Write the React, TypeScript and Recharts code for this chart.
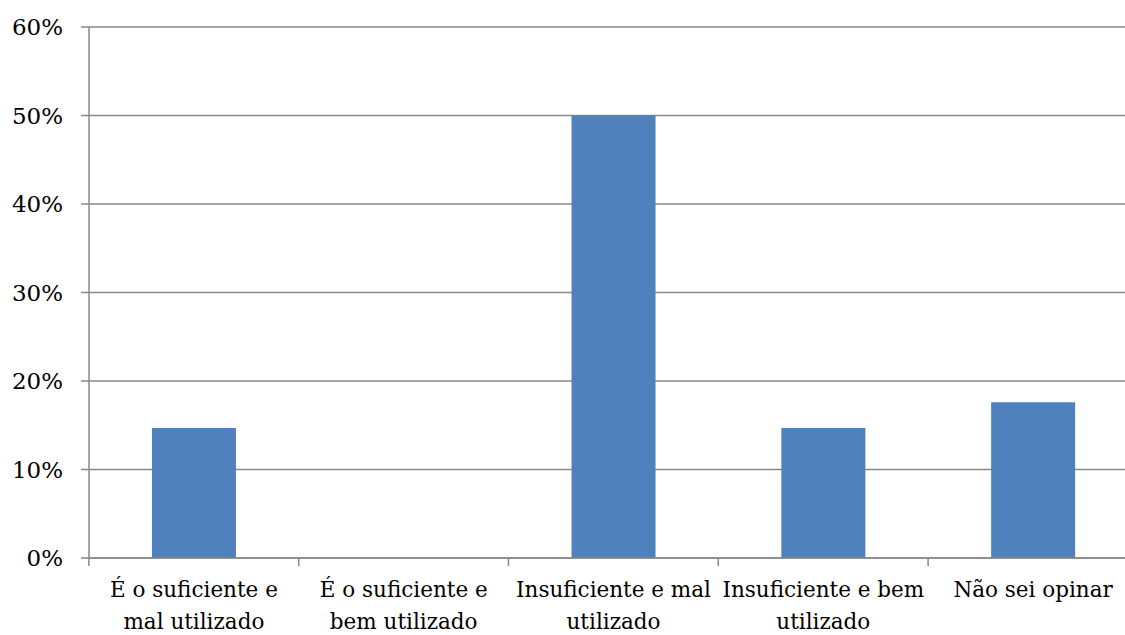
import { BarChart, Bar, XAxis, YAxis, CartesianGrid } from 'recharts';

// answer categories and share of responses
const categories = [
  'É o suficiente e mal utilizado',
  'É o suficiente e bem utilizado',
  'Insuficiente e mal utilizado',
  'Insuficiente e bem utilizado',
  'Não sei opinar',
];
const shares = [0.147, 0, 0.5, 0.147, 0.176];
const tickLines = [
  ['É o suficiente e', 'mal utilizado'],
  ['É o suficiente e', 'bem utilizado'],
  ['Insuficiente e mal', 'utilizado'],
  ['Insuficiente e bem', 'utilizado'],
  ['Não sei opinar'],
];
const yTicks = [0, 0.1, 0.2, 0.3, 0.4, 0.5, 0.6];

const data = categories.map((name, i) => ({ name, value: shares[i] }));

const FONT = '"DejaVu Serif", "Liberation Serif", serif';

const CategoryTick = ({ x, y, index }: any) => {
  const lines = tickLines[index] || [];
  return (
    <g transform={`translate(${x},${y})`}>
      {lines.map((line, i) => (
        <text
          key={i}
          x={0}
          y={i * 32}
          dy={29}
          textAnchor="middle"
          fill="#000"
          fontSize={21.5}
          fontFamily={FONT}
        >
          {line}
        </text>
      ))}
    </g>
  );
};

export default function App() {
  return (
    <div style={{ position: 'fixed', left: 0, top: 0, width: 1125, height: 635, overflow: 'hidden', background: '#fff' }}>
      <BarChart
        width={1140}
        height={635}
        data={data}
        margin={{ top: 27, right: 2, left: 0, bottom: 0 }}
        barCategoryGap="30%"
      >
        <CartesianGrid vertical={false} stroke="#888" strokeWidth={1.5} />
        <XAxis
          dataKey="name"
          height={77}
          stroke="#888"
          strokeWidth={1.5}
          tickSize={8}
          interval={0}
          tick={<CategoryTick />}
          tickLine={{ stroke: '#888', transform: 'translate(-105,0)' }}
        />
        <YAxis
          width={89}
          domain={[0, 0.6]}
          ticks={yTicks}
          tickSize={8}
          tickMargin={18}
          stroke="#888"
          strokeWidth={1.5}
          tickFormatter={(v: number) => `${Math.round(v * 100)}%`}
          tick={{ fill: '#000', fontSize: 23, fontFamily: FONT }}
        />
        <Bar dataKey="value" fill="#4F81BD" isAnimationActive={false} />
      </BarChart>
    </div>
  );
}
